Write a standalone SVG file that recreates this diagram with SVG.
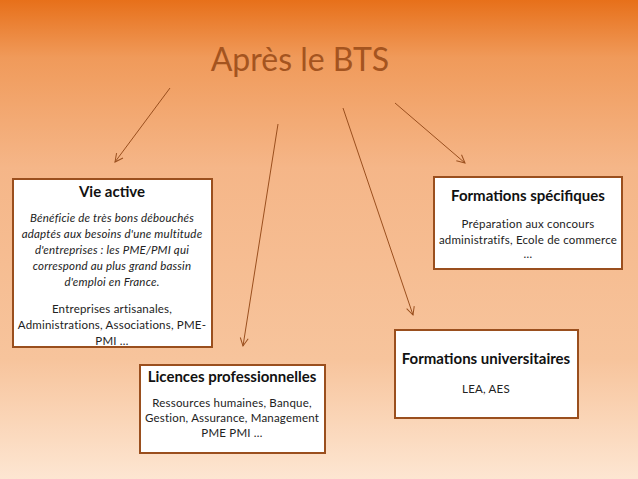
<svg xmlns="http://www.w3.org/2000/svg" width="638" height="479" viewBox="0 0 638 479">
<defs>
<linearGradient id="bg" x1="0" y1="0" x2="0" y2="1">
<stop offset="0" stop-color="#e7701a"/>
<stop offset="0.12" stop-color="#f09a5a"/>
<stop offset="0.35" stop-color="#f5b688"/>
<stop offset="0.75" stop-color="#f7c49c"/>
<stop offset="1" stop-color="#fde6d2"/>
</linearGradient>
<marker id="ah" markerWidth="10" markerHeight="10" refX="9" refY="5" orient="auto" markerUnits="userSpaceOnUse">
<path d="M1,1 L9,5 L1,9" fill="none" stroke="#9a4f1e" stroke-width="1"/>
</marker>
<style>
.box{fill:#fff;stroke:#9a4f1e;stroke-width:2}
.t{font-family:Lato,"Liberation Sans",sans-serif;font-weight:bold;font-size:15px;fill:#111;text-anchor:middle}
.b{font-family:Lato,"Liberation Sans",sans-serif;font-size:11.5px;letter-spacing:0.2px;fill:#222;text-anchor:middle}
.i{font-style:italic}
.c{stroke:#9a4f1e;stroke-width:1;fill:none;marker-end:url(#ah)}
</style>
</defs>
<rect width="638" height="479" fill="url(#bg)"/>
<text x="300" y="71" font-family="Lato,'Liberation Sans',sans-serif" font-size="32" fill="#a4541f" text-anchor="middle">Après le BTS</text>
<g id="connectors">
<line class="c" x1="170" y1="88" x2="115" y2="162"/>
<line class="c" x1="278" y1="124" x2="243" y2="346"/>
<line class="c" x1="343" y1="108" x2="413" y2="315"/>
<line class="c" x1="395" y1="103" x2="465" y2="163"/>
</g>
<g id="vie">
<rect class="box" x="13" y="179" width="199" height="168"/>
<text class="t" x="112" y="197">Vie active</text>
<text class="b i" x="112" y="222">Bénéficie de très bons débouchés</text>
<text class="b i" x="112" y="238">adaptés aux besoins d'une multitude</text>
<text class="b i" x="112" y="254">d'entreprises : les PME/PMI qui</text>
<text class="b i" x="112" y="270">correspond au plus grand bassin</text>
<text class="b i" x="112" y="286">d'emploi en France.</text>
<text class="b" x="112" y="313">Entreprises artisanales,</text>
<text class="b" x="112" y="329">Administrations, Associations, PME-</text>
<text class="b" x="112" y="345">PMI …</text>
</g>
<g id="specifiques">
<rect class="box" x="434" y="177" width="188" height="92"/>
<text class="t" x="528" y="201">Formations spécifiques</text>
<text class="b" x="528" y="228">Préparation aux concours</text>
<text class="b" x="528" y="244">administratifs, Ecole de commerce</text>
<text class="b" x="528" y="258" font-size="8">…</text>
</g>
<g id="universitaires">
<rect class="box" x="395" y="330" width="183" height="88"/>
<text class="t" x="486" y="364">Formations universitaires</text>
<text class="b" x="486" y="393">LEA, AES</text>
</g>
<g id="licences">
<rect class="box" x="140" y="365" width="185" height="88"/>
<text class="t" x="232" y="382">Licences professionnelles</text>
<text class="b" x="232" y="407">Ressources humaines, Banque,</text>
<text class="b" x="232" y="422">Gestion, Assurance, Management</text>
<text class="b" x="232" y="437">PME PMI …</text>
</g>
</svg>
